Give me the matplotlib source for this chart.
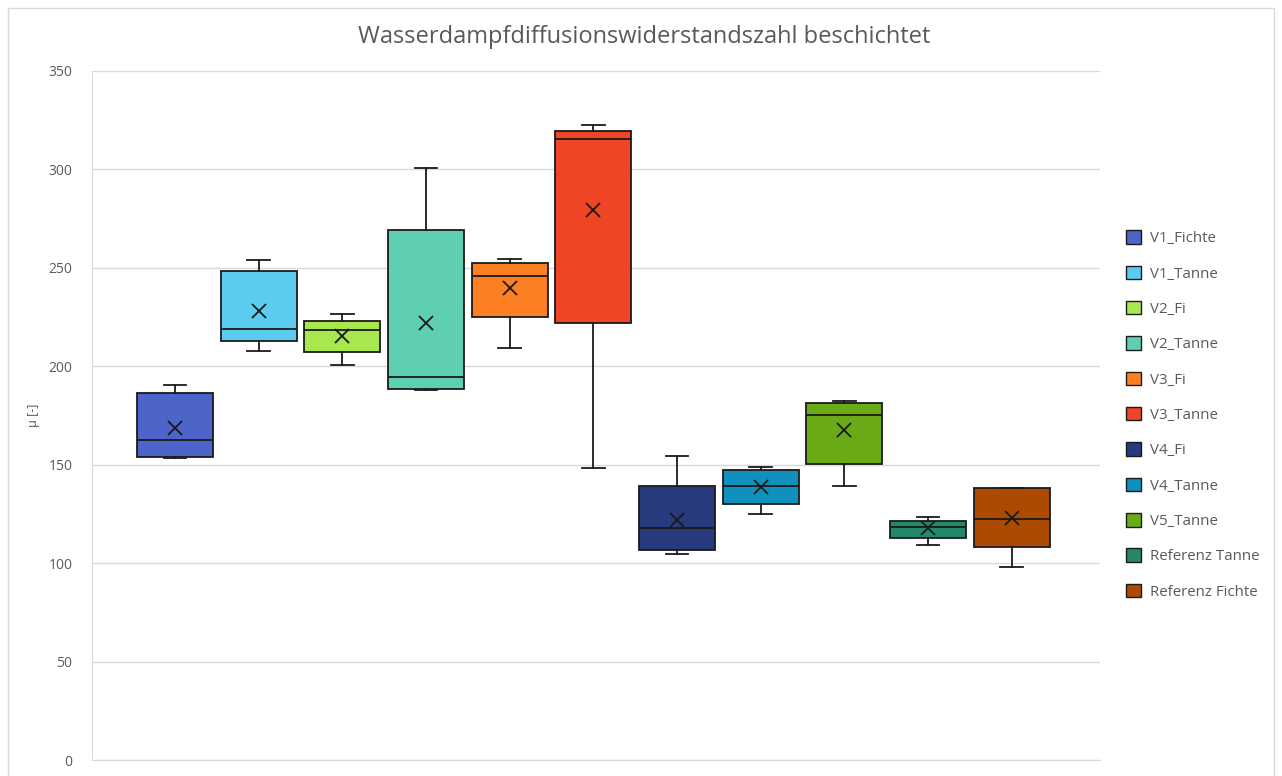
import matplotlib.pyplot as plt
from matplotlib.patches import Rectangle, Patch

plt.rcParams['font.family'] = ['Open Sans', 'DejaVu Sans']

# box statistics (mu [-])
names = ['V1_Fichte', 'V1_Tanne', 'V2_Fi', 'V2_Tanne', 'V3_Fi', 'V3_Tanne',
         'V4_Fi', 'V4_Tanne', 'V5_Tanne', 'Referenz Tanne', 'Referenz Fichte']
whis_lo = [153.6, 207.9, 200.8, 187.8, 209.5, 148.5, 104.8, 125.0, 139.4, 109.4, 98.2]
q1      = [154.1, 212.8, 207.4, 188.3, 225.2, 221.8, 106.8, 130.0, 150.4, 112.8, 108.0]
medians = [162.8, 218.8, 218.6, 194.6, 245.7, 315.4, 117.9, 139.0, 175.1, 118.4, 122.6]
q3      = [186.3, 248.6, 223.0, 269.1, 252.5, 319.3, 139.4, 147.2, 181.2, 121.4, 138.3]
whis_hi = [190.5, 254.0, 226.6, 300.5, 254.3, 322.7, 154.2, 148.6, 182.4, 123.6, 138.3]
means   = [168.8, 228.3, 215.5, 221.8, 239.9, 279.4, 121.9, 138.8, 167.6, 117.7, 123.1]

colors = ['#4D65C8', '#5BCBF0', '#A6E84E', '#5ECFB1', '#FC8021', '#EF4525',
          '#263A7D', '#1090BD', '#6AAA16', '#23876A', '#AE4A00']

stats = []
for i in range(len(names)):
    stats.append({'label': names[i], 'whislo': whis_lo[i], 'q1': q1[i], 'med': medians[i],
                  'q3': q3[i], 'whishi': whis_hi[i], 'mean': means[i], 'fliers': []})

fig = plt.figure(figsize=(12.82, 7.76), dpi=100)
ax = fig.add_axes([92 / 1282, 16 / 776, 1008 / 1282, 689 / 776])

# light chart border like excel
fig.patches.append(Rectangle((8 / 1282, -0.01), 1266 / 1282, 1 - 8 / 776 + 0.01,
                             transform=fig.transFigure, fill=False, edgecolor='#d9d9d9', lw=1))

pos = list(range(1, len(names) + 1))
bp = ax.bxp(stats, positions=pos, widths=0.91, patch_artist=True, showmeans=True,
            showfliers=False,
            boxprops=dict(edgecolor='#1a1a1a', linewidth=1.3),
            medianprops=dict(color='#1a1a1a', linewidth=1.3),
            whiskerprops=dict(color='#1a1a1a', linewidth=1.3),
            capprops=dict(color='#1a1a1a', linewidth=1.3),
            capwidths=0.27,
            meanprops=dict(marker='x', markeredgecolor='#1a1a1a', markersize=10, markeredgewidth=1.3))
for box, c in zip(bp['boxes'], colors):
    box.set_facecolor(c)

ax.set_xlim(0.008, 12.057)
ax.set_ylim(0, 350)
ax.set_yticks(range(0, 351, 50))
ax.set_xticks([])
ax.yaxis.grid(True, color='#d9d9d9', lw=1)
ax.set_axisbelow(True)
for s in ['top', 'right']:
    ax.spines[s].set_visible(False)
ax.spines['left'].set_color('#d9d9d9')
ax.spines['bottom'].set_color('#d9d9d9')
ax.tick_params(axis='y', length=0, pad=14, labelsize=10, labelcolor='#595959')
ax.set_ylabel('μ [-]', color='#595959', fontsize=9, labelpad=6)

fig.text(644 / 1282, 1 - 37 / 776, 'Wasserdampfdiffusionswiderstandszahl beschichtet',
         ha='center', va='center', fontsize=17, color='#595959')

handles = [Patch(facecolor=c, edgecolor='#1a1a1a', label=n) for c, n in zip(colors, names)]
fig.legend(handles=handles, loc='center left', bbox_to_anchor=(1112 / 1282, 1 - 415 / 776),
           frameon=False, fontsize=10.8, labelcolor='#595959', handlelength=1.0, handleheight=1.0,
           labelspacing=1.3, handletextpad=0.6)

fig.savefig('out.png', dpi=100)
